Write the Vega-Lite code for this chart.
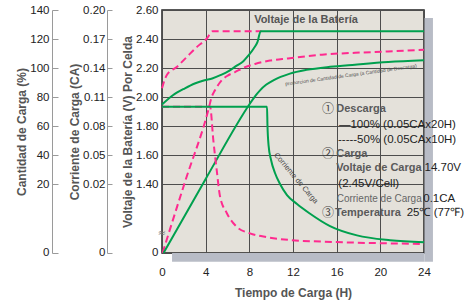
{
  "$schema": "https://vega.github.io/schema/vega-lite/v6.json",
  "width": 262,
  "height": 243,
  "autosize": "none",
  "padding": {"left": 162, "top": 10, "right": 50, "bottom": 49},
  "background": "white",
  "config": {
    "view": {"fill": "#e4e1da", "stroke": "#222222", "strokeWidth": 1.5},
    "font": "Liberation Sans",
    "axis": {
      "labelFont": "Liberation Sans", "labelFontSize": 11.5, "labelColor": "#222222",
      "titleFont": "Liberation Sans", "titleFontSize": 12, "titleFontWeight": "bold", "titleColor": "#555555",
      "gridColor": "#4d4d4d", "gridWidth": 1, "gridOpacity": 1,
      "domainColor": "#9a9a9a", "tickColor": "#9a9a9a", "labelFlush": false, "labelOverlap": false
    }
  },
  "datasets": {
    "sombra": [
      {"h": 24.05, "h2": 24.82, "v": 2.545, "v2": -0.18},
      {"h": 0.92, "h2": 24.05, "v": 0, "v2": -0.18}
    ],
    "v100": [
      {"h": 0, "v": 1.948}, {"h": 1.0, "v": 2.012}, {"h": 2.1, "v": 2.06}, {"h": 3.0, "v": 2.093},
      {"h": 3.9, "v": 2.115}, {"h": 4.6, "v": 2.128}, {"h": 5.4, "v": 2.152}, {"h": 6.1, "v": 2.178},
      {"h": 6.84, "v": 2.216}, {"h": 7.45, "v": 2.247}, {"h": 7.9, "v": 2.285}, {"h": 8.4, "v": 2.335},
      {"h": 8.75, "v": 2.38}, {"h": 9.04, "v": 2.454}, {"h": 24, "v": 2.454}
    ],
    "v50": [
      {"h": 0, "v": 2.06}, {"h": 0.43, "v": 2.15}, {"h": 1.35, "v": 2.207}, {"h": 2.26, "v": 2.275},
      {"h": 3.18, "v": 2.344}, {"h": 4.09, "v": 2.402}, {"h": 4.64, "v": 2.454}, {"h": 9.1, "v": 2.454}
    ],
    "c100": [
      {"h": 0.14, "c": 0}, {"h": 4.0, "c": 23.5}, {"h": 8.06, "c": 75.5}, {"h": 8.52, "c": 80.5},
      {"h": 8.98, "c": 84.6}, {"h": 9.53, "c": 88.4}, {"h": 10.2, "c": 91.5}, {"h": 11.72, "c": 96.1},
      {"h": 13.25, "c": 98.7}, {"h": 15.39, "c": 100.8}, {"h": 17.68, "c": 102.3}, {"h": 20.73, "c": 104.1},
      {"h": 24, "c": 105.3}
    ],
    "c50": [
      {"h": 0.05, "c": 0}, {"h": 2.15, "c": 22.5}, {"h": 4.24, "c": 70.9}, {"h": 4.55, "c": 80.0},
      {"h": 4.85, "c": 84.6}, {"h": 5.47, "c": 91.5}, {"h": 6.05, "c": 94.9}, {"h": 6.69, "c": 97.2},
      {"h": 7.6, "c": 100.6}, {"h": 8.52, "c": 102.8}, {"h": 9.89, "c": 105.1}, {"h": 11.54, "c": 106.6},
      {"h": 14.66, "c": 109.2}, {"h": 17.68, "c": 110.5}, {"h": 20.7, "c": 111.4}, {"h": 24, "c": 112.6}
    ],
    "i100": [
      {"h": 0, "i": 0.1}, {"h": 9.62, "i": 0.1}, {"h": 9.66, "i": 0.081}, {"h": 9.76, "i": 0.0603},
      {"h": 9.99, "i": 0.0448}, {"h": 10.35, "i": 0.0314}, {"h": 10.81, "i": 0.02}, {"h": 11.45, "i": 0.0168},
      {"h": 12.37, "i": 0.0142}, {"h": 13.47, "i": 0.0116}, {"h": 15.39, "i": 0.0078}, {"h": 17.86, "i": 0.0051},
      {"h": 20.89, "i": 0.0037}, {"h": 24, "i": 0.0031}
    ],
    "i50": [
      {"h": 0, "i": 0.1}, {"h": 4.4, "i": 0.1}, {"h": 4.7, "i": 0.0655}, {"h": 5.01, "i": 0.0345},
      {"h": 5.31, "i": 0.0165}, {"h": 5.93, "i": 0.0116}, {"h": 6.84, "i": 0.0076}, {"h": 8.06, "i": 0.0057},
      {"h": 9.59, "i": 0.0046}, {"h": 11.57, "i": 0.0038}, {"h": 14.63, "i": 0.0033}, {"h": 17.68, "i": 0.003},
      {"h": 20.73, "i": 0.0028}, {"h": 24, "i": 0.0026}
    ],
    "titulo": [{"h": 13.19, "v": 2.531, "t": "Voltaje de la Batería"}],
    "circulos": [
      {"h": 14.66, "v": 1.917, "t": "①"},
      {"h": 14.66, "v": 1.607, "t": "②"},
      {"h": 14.66, "v": 0.818, "t": "③"}
    ],
    "etiquetas": [
      {"h": 15.96, "v": 1.917, "t": "Descarga"},
      {"h": 15.96, "v": 1.607, "t": "Carga"},
      {"h": 15.96, "v": 1.507, "t": "Voltaje de Carga"},
      {"h": 15.85, "v": 0.818, "t": "Temperatura"}
    ],
    "valores": [
      {"h": 16.21, "v": 1.807, "t": "—100% (0.05CAx20H)"},
      {"h": 16.12, "v": 1.703, "t": "-----50% (0.05CAx10H)"},
      {"h": 16.15, "v": 1.4, "t": "(2.45V/Cell)"},
      {"h": 24.05, "v": 1.507, "t": "14.70V"},
      {"h": 23.93, "v": 1.096, "t": "0.1CA"},
      {"h": 22.41, "v": 0.818, "t": "25℃ (77℉)"}
    ],
    "corriente_etq": [{"h": 16.0, "v": 1.096, "t": "Corriente de Carga"}],
    "proporcion": [{"h": 17.31, "v": 2.155, "t": "proporcion de Cantidad de Carga (a Cantidad de Descarga)"}],
    "corriente_curva": [{"h": 12.26, "v": 1.439, "t": "Corriente de Carga"}],
    "quiebre": [{"h": 0, "v": 0.396, "t": "≈"}]
  },
  "layer": [
    {
      "encoding": {
        "x": {"field": "h", "type": "quantitative", "scale": {"domain": [0, 24], "nice": false, "zero": false},
              "axis": {"values": [0, 4, 8, 12, 16, 20, 24], "title": "Tiempo de Carga (H)", "grid": true, "domain": false, "ticks": false, "tickSize": 0, "labelPadding": 13, "titlePadding": 10}},
        "y": {"field": "v", "type": "quantitative",
              "scale": {"domain": [0, 1.4, 2.6], "range": [243, 174, 0], "nice": false, "zero": false},
              "axis": {"orient": "left", "offset": 0, "values": [0.002, 1.4, 1.6, 1.8, 2.0, 2.2, 2.4, 2.6],
                       "labelExpr": "datum.value < 0.5 ? '0' : format(datum.value, '.2f')",
                       "title": "Voltaje de la Batería (V) Por Celda", "grid": true, "domain": false, "ticks": false, "tickSize": 0,
                       "labelPadding": 4, "titlePadding": 1}}
      },
      "layer": [
        {"data": {"name": "sombra"}, "mark": {"type": "rect", "fill": "#b8bcc6"},
         "encoding": {"x2": {"field": "h2"}, "y2": {"field": "v2"}}},
        {"data": {"name": "v50"}, "mark": {"type": "line", "color": "#ff2a8f", "strokeWidth": 2, "strokeDash": [7, 4], "interpolate": "monotone"}},
        {"data": {"name": "v100"}, "mark": {"type": "line", "color": "#00a04e", "strokeWidth": 2, "interpolate": "monotone"}},
        {"data": {"name": "titulo"}, "mark": {"type": "text", "font": "Liberation Sans", "fontSize": 11, "fontWeight": "bold", "color": "#555555", "align": "center", "baseline": "middle"},
         "encoding": {"text": {"field": "t"}}},
        {"data": {"name": "circulos"}, "mark": {"type": "text", "font": "Noto Sans CJK JP", "fontSize": 12, "color": "#444444", "align": "left", "baseline": "middle"},
         "encoding": {"text": {"field": "t"}}},
        {"data": {"name": "etiquetas"}, "mark": {"type": "text", "font": "Liberation Sans", "fontSize": 11, "fontWeight": "bold", "color": "#5a5a5a", "align": "left", "baseline": "middle"},
         "encoding": {"text": {"field": "t"}}},
        {"data": {"name": "valores"}, "mark": {"type": "text", "font": "Liberation Sans", "fontSize": 11.5, "color": "#222222", "align": "left", "baseline": "middle"},
         "encoding": {"text": {"field": "t"}}},
        {"data": {"name": "corriente_etq"}, "mark": {"type": "text", "font": "Liberation Sans", "fontSize": 10, "color": "#666666", "align": "left", "baseline": "middle"},
         "encoding": {"text": {"field": "t"}}},
        {"data": {"name": "proporcion"}, "mark": {"type": "text", "font": "Liberation Sans", "fontSize": 5, "color": "#555555", "align": "center", "baseline": "middle", "angle": -7.9},
         "encoding": {"text": {"field": "t"}}},
        {"data": {"name": "corriente_curva"}, "mark": {"type": "text", "font": "Liberation Sans", "fontSize": 7.5, "color": "#444444", "align": "center", "baseline": "middle", "angle": 50},
         "encoding": {"text": {"field": "t"}}},
        {"data": {"name": "quiebre"}, "mark": {"type": "text", "font": "DejaVu Sans", "fontSize": 10, "color": "#777777", "align": "center", "baseline": "middle"},
         "encoding": {"text": {"field": "t"}}}
      ]
    },
    {
      "encoding": {
        "x": {"field": "h", "type": "quantitative", "scale": {"domain": [0, 24], "nice": false, "zero": false},
              "axis": {"values": [0, 4, 8, 12, 16, 20, 24], "title": "Tiempo de Carga (H)", "grid": true, "domain": false, "ticks": false, "tickSize": 0, "labelPadding": 13, "titlePadding": 10}},
        "y": {"field": "c", "type": "quantitative",
              "scale": {"domain": [0, 20, 140], "range": [243, 174, 0], "nice": false, "zero": false},
              "axis": {"orient": "left", "offset": 110, "values": [0.05, 20, 40, 60, 80, 100, 120, 140],
                       "labelExpr": "datum.value < 1 ? '0' : format(datum.value, 'd')",
                       "title": "Cantidad de Carga (%)", "grid": false, "domain": true, "ticks": true, "tickSize": -6,
                       "labelPadding": 9, "titlePadding": 1}}
      },
      "layer": [
        {"data": {"name": "c50"}, "mark": {"type": "line", "color": "#ff2a8f", "strokeWidth": 2, "strokeDash": [7, 4], "interpolate": "monotone"}},
        {"data": {"name": "c100"}, "mark": {"type": "line", "color": "#00a04e", "strokeWidth": 2, "interpolate": "monotone"}}
      ]
    },
    {
      "encoding": {
        "x": {"field": "h", "type": "quantitative", "scale": {"domain": [0, 24], "nice": false, "zero": false},
              "axis": {"values": [0, 4, 8, 12, 16, 20, 24], "title": "Tiempo de Carga (H)", "grid": true, "domain": false, "ticks": false, "tickSize": 0, "labelPadding": 13, "titlePadding": 10}},
        "y": {"field": "i", "type": "quantitative",
              "scale": {"domain": [0, 0.02, 0.2], "range": [243, 174, 0], "nice": false, "zero": false},
              "axis": {"orient": "left", "offset": 55, "values": [0.0001, 0.02, 0.05, 0.08, 0.11, 0.14, 0.17, 0.2],
                       "labelExpr": "datum.value < 0.005 ? '0' : format(datum.value, '.2f')",
                       "title": "Corriente de Carga (CA)", "grid": false, "domain": true, "ticks": true, "tickSize": -5,
                       "labelPadding": 7, "titlePadding": 1}}
      },
      "layer": [
        {"data": {"name": "i50"}, "mark": {"type": "line", "color": "#ff2a8f", "strokeWidth": 2, "strokeDash": [7, 4], "interpolate": "monotone"}},
        {"data": {"name": "i100"}, "mark": {"type": "line", "color": "#00a04e", "strokeWidth": 2, "interpolate": "monotone"}}
      ]
    }
  ],
  "resolve": {"scale": {"y": "independent"}, "axis": {"y": "independent"}}
}
